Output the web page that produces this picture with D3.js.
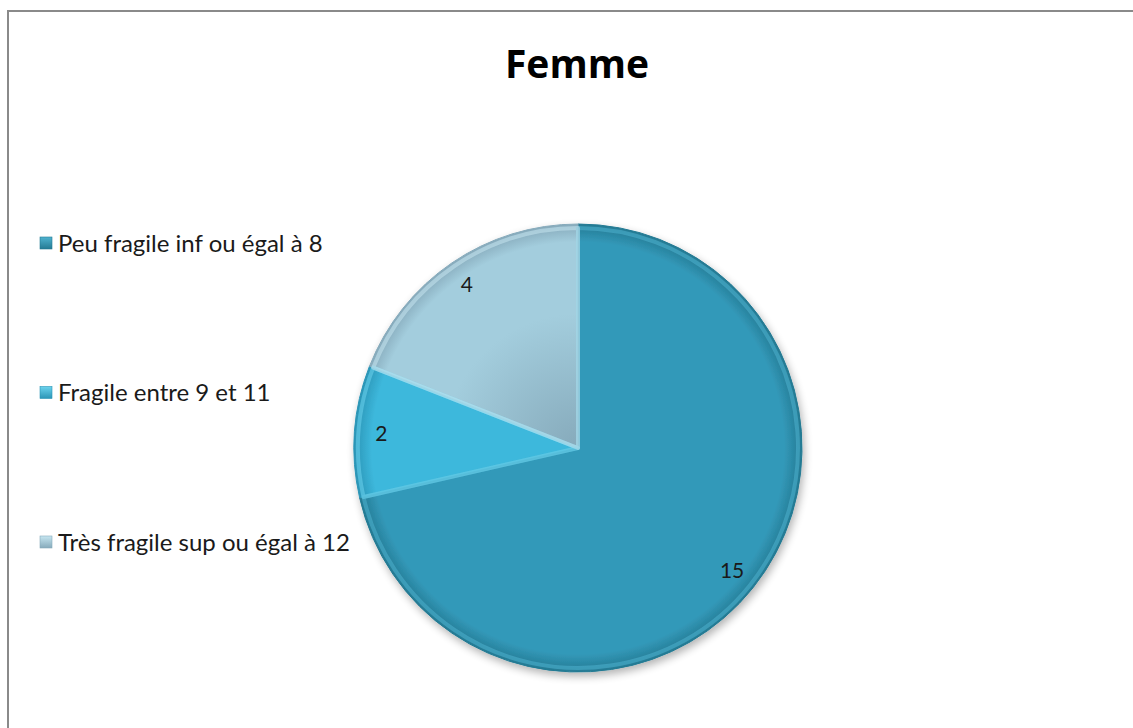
<!DOCTYPE html>
<html>
<head>
<meta charset="utf-8">
<script src="https://cdn.jsdelivr.net/npm/d3@7"></script>
<style>
  body { margin:0; background:#fff; }
  text { font-family: Lato, "Open Sans", sans-serif; }
</style>
</head>
<body>
<div id="chart"></div>
<script>
// data
const categories = ["Peu fragile inf ou égal à 8", "Fragile entre 9 et 11", "Très fragile sup ou égal à 12"];
const values = [15, 2, 4];
const title = "Femme";

// colours: [light, base, dark] per slice
const sliceColors = [
  ["#4fb3d0", "#3399b9", "#247a93"],
  ["#6bd3ee", "#3db8dc", "#2b95b6"],
  ["#c6e6f1", "#a3cddd", "#86aabb"]
];

const W = 1133, H = 728;
const cx = 578, cy = 448, R = 224;

const svg = d3.select("#chart").append("svg")
  .attr("width", W).attr("height", H);

const defs = svg.append("defs");

// gradients for the slices (centre is the local origin of the pie group)
sliceColors.forEach((c, i) => {
  const g = defs.append("radialGradient")
    .attr("id", "g" + i)
    .attr("gradientUnits", "userSpaceOnUse")
    .attr("cx", 0).attr("cy", 0).attr("r", R);
  g.append("stop").attr("offset", "0%").attr("stop-color", i == 2 ? c[2] : c[1]);
  g.append("stop").attr("offset", "60%").attr("stop-color", c[1]);
  g.append("stop").attr("offset", "92%").attr("stop-color", c[1]);
  g.append("stop").attr("offset", "100%").attr("stop-color", c[2]);

  const lg = defs.append("linearGradient")
    .attr("id", "lg" + i).attr("x1", 0).attr("y1", 0).attr("x2", 0).attr("y2", 1);
  lg.append("stop").attr("offset", "0%").attr("stop-color", c[0]);
  lg.append("stop").attr("offset", "100%").attr("stop-color", c[2]);
});

const shadow = defs.append("filter").attr("id", "shadow")
  .attr("x", "-10%").attr("y", "-10%").attr("width", "120%").attr("height", "120%");
shadow.append("feGaussianBlur").attr("in", "SourceAlpha").attr("stdDeviation", 4);
shadow.append("feOffset").attr("dx", 2).attr("dy", 4).attr("result", "ob");
shadow.append("feComponentTransfer").append("feFuncA").attr("type", "linear").attr("slope", 0.3);
const merge = shadow.append("feMerge");
merge.append("feMergeNode");
merge.append("feMergeNode").attr("in", "SourceGraphic");

// frame (only left and top edges are visible in the picture)
svg.append("path")
  .attr("d", "M8,728 V11 H1133")
  .attr("fill", "none").attr("stroke", "#8a8a8a").attr("stroke-width", 2);

// title
svg.append("text")
  .attr("x", 577).attr("y", 78)
  .attr("text-anchor", "middle")
  .attr("font-size", 39).attr("font-weight", "bold")
  .style("font-family", "'Open Sans', sans-serif")
  .attr("fill", "#000")
  .text(title);

// pie
const pie = d3.pie().sort(null).value(d => d);
const arcs = pie(values);
const arc = d3.arc().innerRadius(0).outerRadius(R);
const bevel = d3.arc().innerRadius(0).outerRadius(R - 4);
const labelArc = d3.arc().innerRadius(R * 0.88).outerRadius(R * 0.88);

const g = svg.append("g").attr("transform", `translate(${cx},${cy})`);

g.append("g").attr("filter", "url(#shadow)")
  .selectAll("path")
  .data(arcs)
  .enter().append("path")
    .attr("d", arc)
    .attr("fill", (d, i) => `url(#g${i})`)
    .attr("stroke", (d, i) => sliceColors[i][2])
    .attr("stroke-width", 1);

// bevel highlight
g.selectAll("path.bevel")
  .data(arcs)
  .enter().append("path")
    .attr("class", "bevel")
    .attr("d", bevel)
    .attr("fill", "none")
    .attr("stroke", (d, i) => sliceColors[i][0])
    .attr("stroke-width", 4)
    .attr("stroke-opacity", 0.55)
    .attr("stroke-linejoin", "round");

g.selectAll("text.lbl")
  .data(arcs)
  .enter().append("text")
    .attr("class", "lbl")
    .attr("transform", d => `translate(${labelArc.centroid(d)})`)
    .attr("text-anchor", "middle")
    .attr("dy", "0.35em")
    .attr("font-size", 21)
    .attr("fill", "#1a1a1a")
    .text(d => d.data);

// legend
const legendY = d3.scalePoint().domain(categories).range([243, 542]);

const leg = svg.append("g").selectAll("g")
  .data(categories)
  .enter().append("g")
    .attr("transform", d => `translate(40,${legendY(d)})`);

leg.append("rect")
  .attr("x", 0).attr("y", -6).attr("width", 12).attr("height", 12)
  .attr("fill", (d, i) => `url(#lg${i})`)
  .attr("stroke", (d, i) => sliceColors[i][2]).attr("stroke-width", 0.6);

leg.append("text")
  .attr("x", 18).attr("dy", "0.36em")
  .attr("font-size", 24)
  .attr("fill", "#1a1a1a")
  .text(d => d);
</script>
</body>
</html>
